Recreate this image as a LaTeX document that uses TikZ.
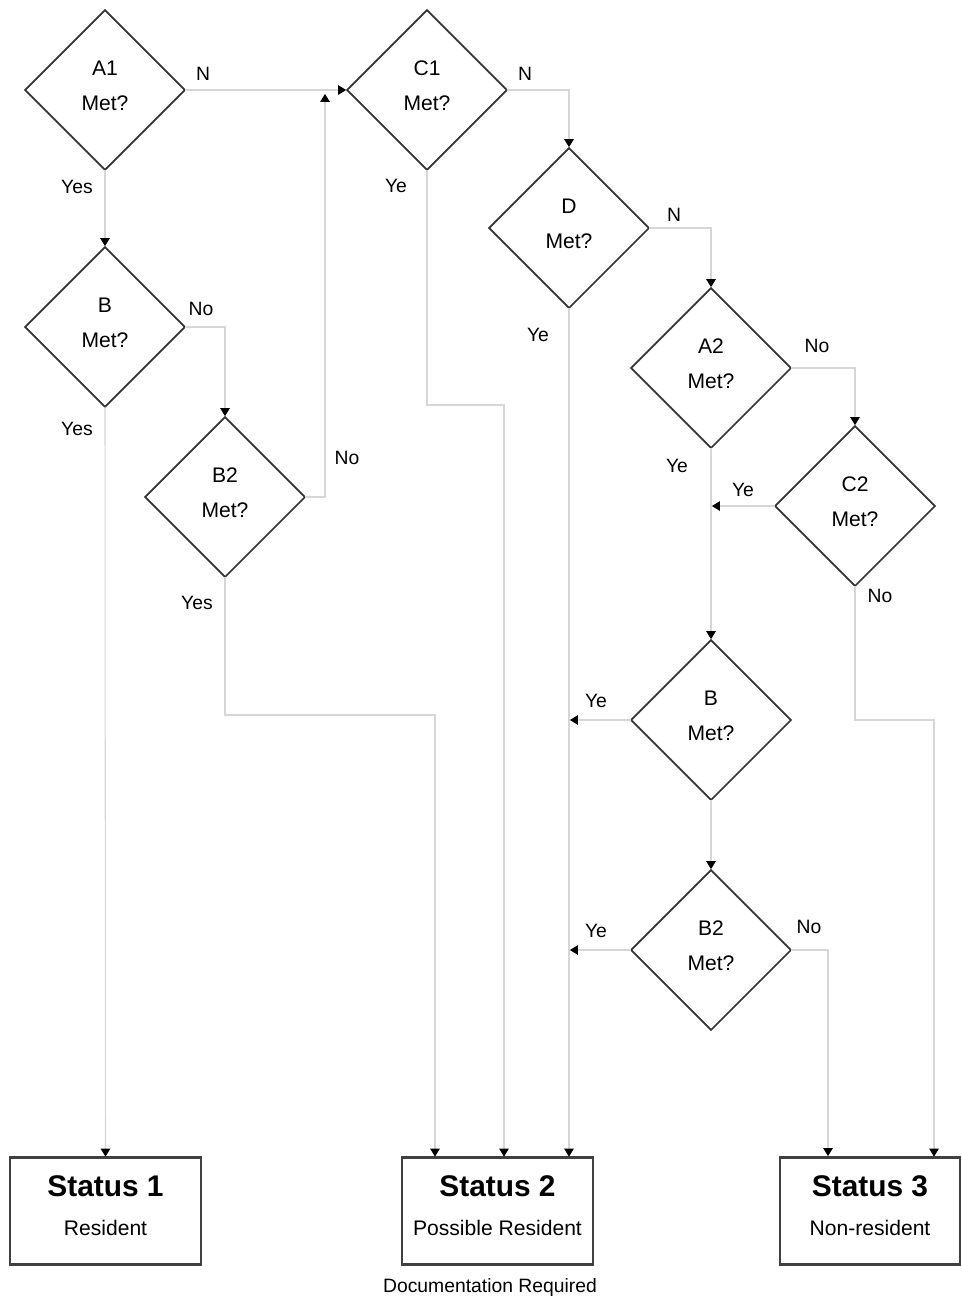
\documentclass[tikz,border=0pt]{standalone}
\usepackage{fontspec}
\setmainfont{Liberation Sans}
\usetikzlibrary{arrows.meta,positioning,calc,shapes.geometric}

\begin{document}
\begin{tikzpicture}[
    x=0.02cm, y=-0.02cm,
    test/.style={draw=black!80, line width=1pt, diamond, inner sep=0pt, outer sep=0pt,
        minimum width=3.2cm, minimum height=3.2cm, align=center, text depth=0.17cm,
        font=\fontsize{12}{20}\selectfont},
    status/.style={draw=black!75, line width=1.2pt, rectangle, inner sep=0pt, outer sep=0pt,
        minimum width=3.82cm, minimum height=2.14cm, align=center, text depth=0.22cm,
        font=\fontsize{12}{22}\selectfont},
    label/.style={font=\fontsize{11}{13}\selectfont, inner sep=0pt},
    arrow/.style={draw=black!16, line width=0.6pt,
        -{Triangle[length=1.6mm,width=1.9mm,color=black]}, shorten >=0.5pt}
]
\useasboundingbox (0,0) rectangle (961,1298);
% decisions
\node[test] (a1) at (105,90) {A1\\Met?};
\node[test] (c1) at (427,90) {C1\\Met?};
\node[test] (d) at (569,228) {D\\Met?};
\node[test] (bl) at (105,327) {B\\Met?};
\node[test] (b2l) at (225,497) {B2\\Met?};
\node[test] (a2) at (711,368) {A2\\Met?};
\node[test] (c2) at (855,506) {C2\\Met?};
\node[test] (br) at (711,720) {B\\Met?};
\node[test] (b2r) at (711,950) {B2\\Met?};
% outcomes
\node[status] (s1) at (105.5,1211) {{\fontsize{17}{22}\selectfont\bfseries Status 1}\\Resident};
\node[status] (s2) at (497.5,1211) {{\fontsize{17}{22}\selectfont\bfseries Status 2}\\Possible Resident};
\node[status, minimum width=3.6cm] (s3) at (870,1211) {{\fontsize{17}{22}\selectfont\bfseries Status 3}\\Non-resident};
\node[font=\fontsize{11}{13}\selectfont] (docreq) at (490,1287) {Documentation Required};
% bends
\coordinate (up1) at (325,93);
\coordinate (k1) at (435,715);
\coordinate (k2) at (504,405);
\coordinate (k3) at (934,720);
\coordinate (k4) at (828,1157);
% connectors
\draw[arrow] (a1.east) -- (c1.west);
\draw[arrow] (a1.south) -- (bl.north);
\draw[arrow] (bl.south) -- (s1.north);
\draw[arrow] (bl.east) -| (b2l.north);
\draw[arrow] (b2l.east) -| (up1);
\draw[arrow] (b2l.south) |- (k1) -- (k1 |- s2.north);
\draw[arrow] (c1.south) |- (k2) -- (k2 |- s2.north);
\draw[arrow] (c1.east) -| (d.north);
\draw[arrow] (d.south) -- (d.south |- s2.north);
\draw[arrow] (d.east) -| (a2.north);
\draw[arrow] (a2.south) -- (br.north);
\draw[arrow] (a2.east) -| (c2.north);
\draw[arrow] (c2.west) -- (c2.west -| a2.south);
\draw[arrow] (c2.south) |- (k3) -- (k3 |- s3.north);
\draw[arrow] (br.west) -- (br.west -| d.south);
\draw[arrow] (br.south) -- (b2r.north);
\draw[arrow] (b2r.west) -- (b2r.west -| d.south);
\draw[arrow] (b2r.east) -| (k4);
% answers
\node[label] (n1) at (203,74) {N};
\node[label] (y1) at (77,187) {Yes};
\node[label] (n2) at (201,309) {No};
\node[label] (y2) at (77,429) {Yes};
\node[label] (n3) at (347,458) {No};
\node[label] (y3) at (197,603) {Yes};
\node[label] (n4) at (525,74) {N};
\node[label] (y4) at (396,186) {Ye};
\node[label] (n5) at (674,215) {N};
\node[label] (y5) at (538,335) {Ye};
\node[label] (n6) at (817,346) {No};
\node[label] (y6) at (677,466) {Ye};
\node[label] (y7) at (743,490) {Ye};
\node[label] (n7) at (880,596) {No};
\node[label] (y8) at (596,701) {Ye};
\node[label] (y9) at (596,931) {Ye};
\node[label] (n8) at (809,927) {No};
\end{tikzpicture}
\end{document}
